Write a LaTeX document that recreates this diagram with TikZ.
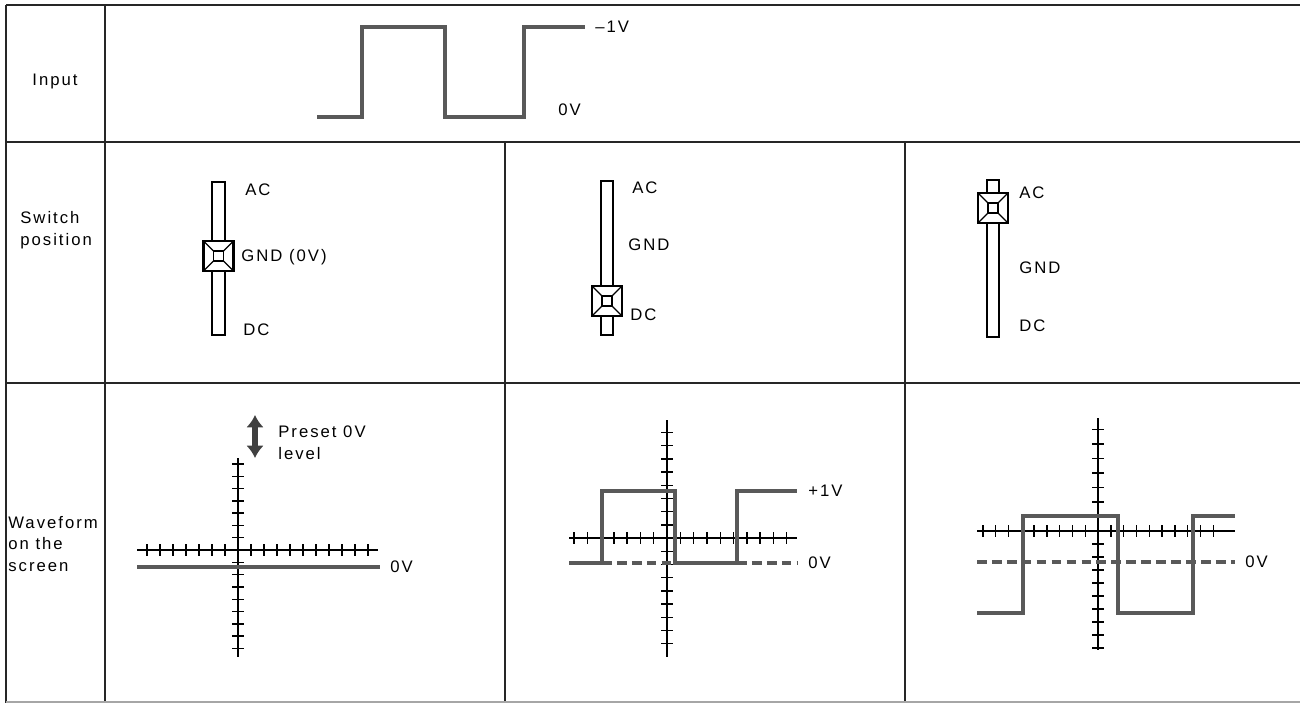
\documentclass[tikz,border=0pt]{standalone}
\usepackage{fontspec}
\setmainfont[LetterSpace=12]{Liberation Sans}
\usetikzlibrary{arrows.meta}

\tikzset{
  grid line/.style={line width=1pt, black!85},
  rod/.style={line width=1pt, fill=white},
  knob/.style={line width=1.4pt, fill=white},
  bevel/.style={line width=0.7pt},
  trace/.style={line width=2.2pt, black!65, line join=miter},
  zero line/.style={line width=2.2pt, black!65, dash pattern=on 5.5pt off 3pt},
  axis/.style={line width=1pt},
  tickmark/.style={line width=0.8pt},
  lbl/.style={anchor=west, inner sep=0pt, align=left, font=\fontsize{9.5}{12.5}\selectfont},
  preset arrow/.style={line width=3pt, black!75, {Latex[length=7pt,width=10pt]}-{Latex[length=7pt,width=10pt]}},
}

\begin{document}
\begin{tikzpicture}[x=0.02cm, y=-0.02cm]
  \useasboundingbox (0,0) rectangle (1305,703);

  % Table
  \draw[grid line] (6,5) -- (1300,5);
  \draw[grid line] (6,5) -- (6,703);
  \draw[grid line] (105,5) -- (105,703);
  \draw[grid line] (6,142) -- (1300,142);
  \draw[grid line] (6,383) -- (1300,383);
  \draw[grid line] (505,142) -- (505,703);
  \draw[grid line] (905,142) -- (905,703);
  \draw[grid line, black!35] (6,702) -- (1300,702);

  % Row headers
  \node[lbl, anchor=center] (input) at (55,81) {Input};
  \node[lbl] (switchpos) at (20,230) {Switch\\position};
  \node[lbl] (screen) at (8,544) {Waveform\\on the\\screen};

  % Input signal
  \draw[trace] (317,117) -- (362,117) -- (362,27) -- (445,27) -- (445,117)
    -- (524,117) -- (524,27) -- (585,27);
  \node[lbl] (inhigh) at (595,27) {--1V};
  \node[lbl] (inlow) at (558,110) {0V};

  % Switch at GND
  \draw[rod] (212,182) rectangle (225,335);
  \begin{scope}[shift={(218.5,256)}]
    \filldraw[knob] (-15,-15) rectangle (15,15);
    \draw[bevel] (-5,-5) rectangle (5,5);
    \draw[bevel] (-15,-15) -- (-5,-5) (15,-15) -- (5,-5) (15,15) -- (5,5) (-15,15) -- (-5,5);
  \end{scope}
  \node[lbl] (acA) at (245,190) {AC};
  \node[lbl] (gndA) at (241,257) {GND (0V)};
  \node[lbl] (dcA) at (243,330) {DC};

  % Switch at DC
  \draw[rod] (601,181) rectangle (613,335);
  \begin{scope}[shift={(607,301)}]
    \filldraw[knob] (-15,-15) rectangle (15,15);
    \draw[bevel] (-5,-5) rectangle (5,5);
    \draw[bevel] (-15,-15) -- (-5,-5) (15,-15) -- (5,-5) (15,15) -- (5,5) (-15,15) -- (-5,5);
  \end{scope}
  \node[lbl] (acB) at (632,188) {AC};
  \node[lbl] (gndB) at (628,245) {GND};
  \node[lbl] (dcB) at (630,315) {DC};

  % Switch at AC
  \draw[rod] (987,180) rectangle (999,337);
  \begin{scope}[shift={(993,208)}]
    \filldraw[knob] (-15,-15) rectangle (15,15);
    \draw[bevel] (-5,-5) rectangle (5,5);
    \draw[bevel] (-15,-15) -- (-5,-5) (15,-15) -- (5,-5) (15,15) -- (5,5) (-15,15) -- (-5,5);
  \end{scope}
  \node[lbl] (acC) at (1019,193) {AC};
  \node[lbl] (gndC) at (1019,268) {GND};
  \node[lbl] (dcC) at (1019,326) {DC};

  % Screen with GND
  \draw[axis] (238,458) -- (238,657);
  \draw[axis] (137,550) -- (378,550);
  \foreach \k in {-7,...,-1,1,2,...,10}
    \draw[tickmark] ({238+13*\k},544) -- ({238+13*\k},556);
  \foreach \k in {-7,...,-1,1,2,...,8}
    \draw[tickmark] (232,{550+12.3*\k}) -- (244,{550+12.3*\k});
  \draw[trace] (137,567) -- (380,567);
  \node[lbl] (zeroA) at (390,567) {0V};
  \coordinate (presettop) at (255,415);
  \coordinate (presetbot) at (255,458);
  \draw[preset arrow] (presettop) -- (presetbot);
  \node[lbl] (preset) at (278,443) {Preset 0V\\level};

  % Screen with DC
  \draw[axis] (667,420) -- (667,657);
  \draw[axis] (569,538) -- (797,538);
  \foreach \k in {-7,...,-1,1,2,...,9}
    \draw[tickmark] ({667+13.3*\k},532) -- ({667+13.3*\k},544);
  \foreach \k in {-8,...,-1,1,2,...,8}
    \draw[tickmark] (661,{538+13.2*\k}) -- (673,{538+13.2*\k});
  \draw[zero line] (602,563) -- (675,563);
  \draw[zero line] (737,563) -- (797,563);
  \draw[trace] (569,563) -- (602,563) -- (602,491) -- (675,491) -- (675,563)
    -- (737,563) -- (737,491) -- (797,491);
  \node[lbl] (plusB) at (808,491) {+1V};
  \node[lbl] (zeroB) at (808,563) {0V};

  % Screen with AC
  \draw[axis] (1098,418) -- (1098,650);
  \draw[axis] (977,531) -- (1235,531);
  \foreach \k in {-9,...,-1,1,2,...,9}
    \draw[tickmark] ({1098+12.8*\k},525) -- ({1098+12.8*\k},537);
  \foreach \k in {1,...,7}
    \draw[tickmark] (1092,{531-14.5*\k}) -- (1104,{531-14.5*\k});
  \foreach \k in {1,...,9}
    \draw[tickmark] (1092,{531+13*\k}) -- (1104,{531+13*\k});
  \draw[zero line] (977,562) -- (1235,562);
  \draw[trace] (977,613) -- (1023,613) -- (1023,516) -- (1118,516) -- (1118,613)
    -- (1193,613) -- (1193,516) -- (1235,516);
  \node[lbl] (zeroC) at (1245,562) {0V};
\end{tikzpicture}
\end{document}
